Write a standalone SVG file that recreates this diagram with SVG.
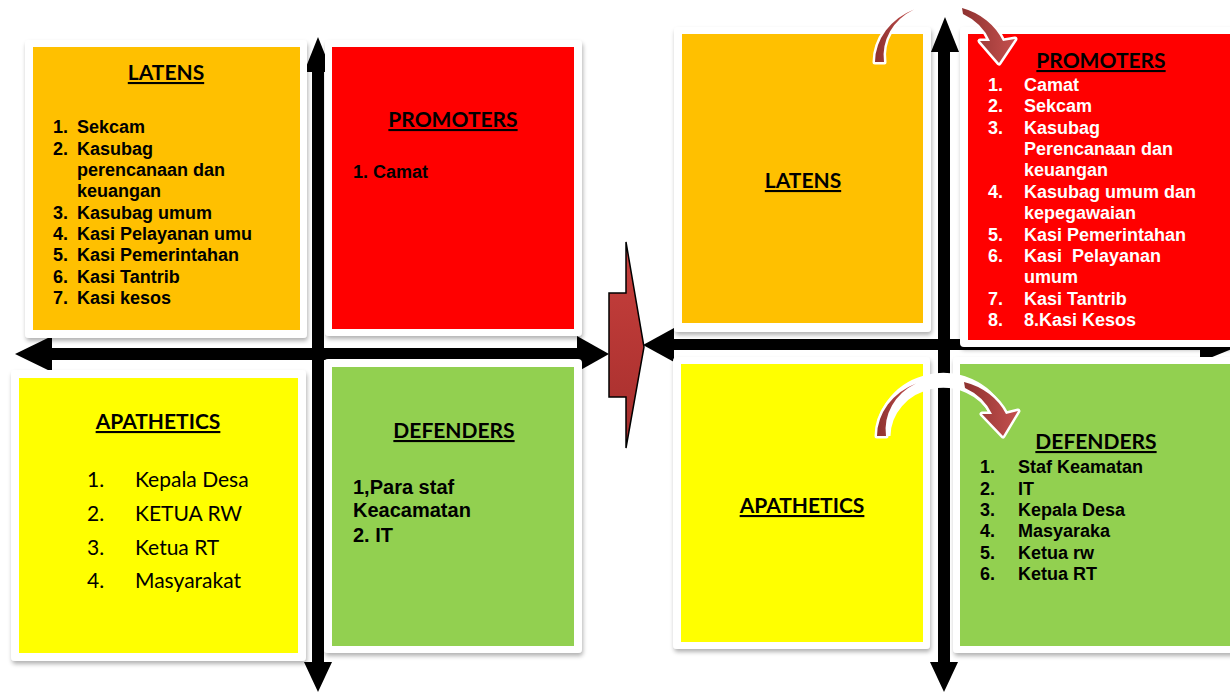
<svg xmlns="http://www.w3.org/2000/svg" width="1230" height="692" viewBox="0 0 1230 692">
<defs>
<style>
.frame{fill:#fff;filter:url(#sh)}
.ttl{font-family:Lato,"Liberation Sans",sans-serif;font-weight:bold;font-size:21px;text-decoration:underline;text-anchor:middle;fill:#000}
.li{font-family:"Liberation Sans",Arial,sans-serif;font-weight:bold;font-size:18px;fill:#000}
.lw{font-family:"Liberation Sans",Arial,sans-serif;font-weight:bold;font-size:18px;fill:#fff}
.lc{font-family:Lato,"Liberation Sans",sans-serif;font-size:21px;fill:#000}
.ax{fill:#000}
.cv{fill:url(#cg);stroke:#fff;stroke-width:5;paint-order:stroke fill;stroke-linejoin:round}
.wb{fill:none;stroke:#fff;stroke-width:15}
</style>
<filter id="sh" x="-5%" y="-5%" width="115%" height="115%">
<feDropShadow dx="1" dy="3" stdDeviation="2" flood-color="#000" flood-opacity="0.3"/>
</filter>
<linearGradient id="rg" x1="0" y1="0" x2="0" y2="1">
<stop offset="0" stop-color="#C8403D"/>
<stop offset="1" stop-color="#A52E2C"/>
</linearGradient>
<linearGradient id="cg" x1="0" y1="0" x2="1" y2="0">
<stop offset="0" stop-color="#8E3230"/>
<stop offset="1" stop-color="#C4504E"/>
</linearGradient>
</defs>
<rect width="1230" height="692" fill="#fff"/>

<g id="connectors">
<!-- left axes -->
<rect class="ax" x="45" y="348" width="535" height="12"/>
<polygon class="ax" points="15,354 52,336 52,372"/>
<polygon class="ax" points="577,336 609,354 577,372"/>
<rect class="ax" x="312" y="68" width="12" height="598"/>
<polygon class="ax" points="318,37 304,72 332,72"/>
<polygon class="ax" points="304,662 332,662 318,692"/>
<!-- right axes -->
<rect class="ax" x="670" y="339" width="535" height="11"/>
<polygon class="ax" points="643,345 674,328 674,362"/>
<polygon class="ax" points="1200,328 1242,345 1200,362"/>
<rect class="ax" x="938" y="48" width="12" height="618"/>
<polygon class="ax" points="945,17 931,52 959,52"/>
<polygon class="ax" points="930,662 958,662 944,692"/>
</g>

<g id="latens-left">
<rect class="frame" x="25" y="40" width="282" height="298" rx="4"/>
<rect x="33" y="47" width="267" height="283" fill="#FFC000"/>
<text class="ttl" x="166" y="80">LATENS</text>
<text class="li"><tspan x="53" y="133">1.</tspan><tspan x="77" y="133">Sekcam</tspan>
<tspan x="53" y="154.5">2.</tspan><tspan x="77" y="154.5">Kasubag</tspan>
<tspan x="77" y="176">perencanaan dan</tspan>
<tspan x="77" y="197">keuangan</tspan>
<tspan x="53" y="218.5">3.</tspan><tspan x="77" y="218.5">Kasubag umum</tspan>
<tspan x="53" y="240">4.</tspan><tspan x="77" y="240">Kasi Pelayanan umu</tspan>
<tspan x="53" y="261">5.</tspan><tspan x="77" y="261">Kasi Pemerintahan</tspan>
<tspan x="53" y="282.5">6.</tspan><tspan x="77" y="282.5">Kasi Tantrib</tspan>
<tspan x="53" y="304">7.</tspan><tspan x="77" y="304">Kasi kesos</tspan></text>
</g>

<g id="promoters-left">
<rect class="frame" x="325" y="40" width="257" height="296" rx="4"/>
<rect x="332" y="47" width="242" height="282" fill="#FF0000"/>
<text class="ttl" x="453" y="127">PROMOTERS</text>
<text class="li" x="353" y="178">1. Camat</text>
</g>

<g id="apathetics-left">
<rect class="frame" x="11" y="370" width="295" height="291" rx="4"/>
<rect x="19" y="378" width="279" height="275" fill="#FFFF00"/>
<text class="ttl" x="158" y="429">APATHETICS</text>
<text class="lc"><tspan x="87" y="487">1.</tspan><tspan x="135" y="487">Kepala Desa</tspan>
<tspan x="87" y="521">2.</tspan><tspan x="135" y="521">KETUA RW</tspan>
<tspan x="87" y="555">3.</tspan><tspan x="135" y="555">Ketua RT</tspan>
<tspan x="87" y="588">4.</tspan><tspan x="135" y="588">Masyarakat</tspan></text>
</g>

<g id="defenders-left">
<rect class="frame" x="324" y="359" width="258" height="294" rx="4"/>
<rect x="332" y="367" width="242" height="279" fill="#92D050"/>
<text class="ttl" x="454" y="438">DEFENDERS</text>
<text class="li" style="font-size:20px"><tspan x="353" y="494">1,Para staf</tspan>
<tspan x="353" y="517">Keacamatan</tspan>
<tspan x="353" y="542">2. IT</tspan></text>
</g>

<g id="transition-arrow">
<polygon points="609,293 626,293 626,242 644,347 626,448 626,397 609,397" fill="url(#rg)" stroke="#000" stroke-width="1.5" stroke-linejoin="miter"/>
</g>

<g id="latens-right">
<rect class="frame" x="674" y="27" width="257" height="305" rx="4"/>
<rect x="682" y="34" width="241" height="289" fill="#FFC000"/>
<text class="ttl" x="803" y="188">LATENS</text>
</g>

<g id="promoters-right">
<rect class="frame" x="960" y="27" width="290" height="320" rx="4"/>
<rect x="968" y="34" width="270" height="306" fill="#FF0000"/>
<text class="ttl" x="1101" y="68">PROMOTERS</text>
<text class="lw"><tspan x="988" y="91">1.</tspan><tspan x="1024" y="91">Camat</tspan>
<tspan x="988" y="112.4">2.</tspan><tspan x="1024" y="112.4">Sekcam</tspan>
<tspan x="988" y="133.7">3.</tspan><tspan x="1024" y="133.7">Kasubag</tspan>
<tspan x="1024" y="155">Perencanaan dan</tspan>
<tspan x="1024" y="176.4">keuangan</tspan>
<tspan x="988" y="197.8">4.</tspan><tspan x="1024" y="197.8">Kasubag umum dan</tspan>
<tspan x="1024" y="219">kepegawaian</tspan>
<tspan x="988" y="240.5">5.</tspan><tspan x="1024" y="240.5">Kasi Pemerintahan</tspan>
<tspan x="988" y="261.8">6.</tspan><tspan x="1024" y="261.8" style="white-space:pre">Kasi  Pelayanan</tspan>
<tspan x="1024" y="283.2">umum</tspan>
<tspan x="988" y="304.5">7.</tspan><tspan x="1024" y="304.5">Kasi Tantrib</tspan>
<tspan x="988" y="326">8.</tspan><tspan x="1024" y="326">8.Kasi Kesos</tspan></text>
</g>

<g id="apathetics-right">
<rect class="frame" x="673" y="357" width="257" height="292" rx="4"/>
<rect x="681" y="364" width="242" height="278" fill="#FFFF00"/>
<text class="ttl" x="802" y="513">APATHETICS</text>
</g>

<g id="defenders-right">
<rect class="frame" x="953" y="357" width="290" height="296" rx="4"/>
<rect x="960" y="364" width="280" height="282" fill="#92D050"/>
<text class="ttl" x="1096" y="449">DEFENDERS</text>
<text class="li"><tspan x="980" y="473">1.</tspan><tspan x="1018" y="473">Staf Keamatan</tspan>
<tspan x="980" y="494.5">2.</tspan><tspan x="1018" y="494.5">IT</tspan>
<tspan x="980" y="516">3.</tspan><tspan x="1018" y="516">Kepala Desa</tspan>
<tspan x="980" y="537">4.</tspan><tspan x="1018" y="537">Masyaraka</tspan>
<tspan x="980" y="559">5.</tspan><tspan x="1018" y="559">Ketua rw</tspan>
<tspan x="980" y="580">6.</tspan><tspan x="1018" y="580">Ketua RT</tspan></text>
</g>

<g id="curved-arrows">
<g id="curve-top">
<path class="cv" d="M875,62 A65,58 0 0 1 914,9.5 A57,52 0 0 0 884,62 Z"/>
<path class="cv" d="M962,8 A65,58 0 0 1 1003,41 L1015,39 L999,63 L980,41 L990,41 A57,52 0 0 0 963,14 Z"/>
</g>
<g id="curve-bottom">
<path class="wb" d="M883,436 A60,56 0 0 1 997,412"/>
<path class="cv" d="M877,436 A65,58 0 0 1 916,383.5 A57,52 0 0 0 886,436 Z"/>
<path class="cv" d="M964,382 A65,58 0 0 1 1006,414 L1018,411 L1003,436 L982,414 L992,414 A57,52 0 0 0 965,388 Z"/>
</g>
</g>
</svg>
